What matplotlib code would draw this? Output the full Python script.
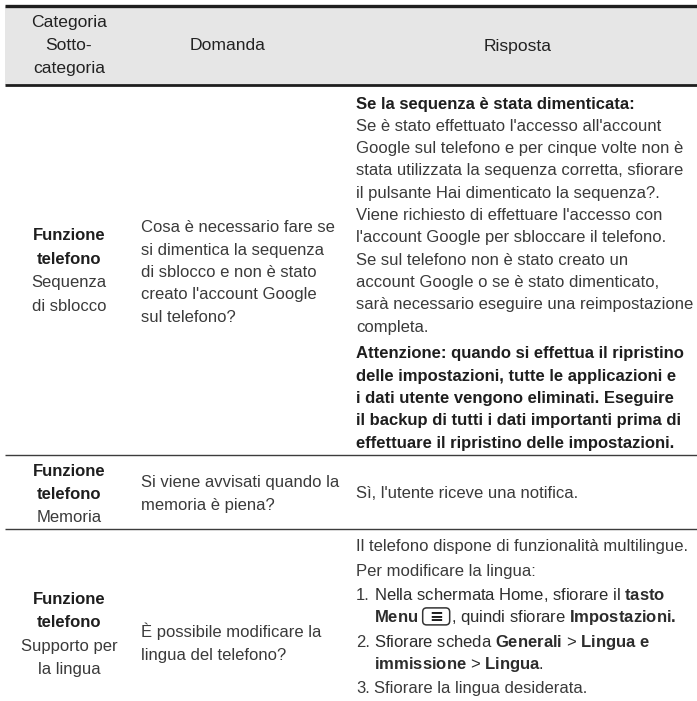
import matplotlib.pyplot as plt
from matplotlib.patches import Rectangle, FancyBboxPatch

plt.rcParams['font.family'] = ['Liberation Sans', 'DejaVu Sans']
plt.rcParams['mathtext.fontset'] = 'custom'
plt.rcParams['mathtext.rm'] = 'Liberation Sans'
plt.rcParams['mathtext.bf'] = 'Liberation Sans:bold'
plt.rcParams['mathtext.it'] = 'Liberation Sans:italic'

# table content
header_cat = ['Categoria', 'Sotto-', 'categoria']
header_cols = ['Domanda', 'Risposta']

cat_main = ['Funzione\ntelefono', 'Funzione\ntelefono', 'Funzione\ntelefono']
cat_sub = ['Sequenza\ndi sblocco', 'Memoria', 'Supporto per\nla lingua']

questions = [
    "Cosa è necessario fare se\nsi dimentica la sequenza\ndi sblocco e non è stato\ncreato l'account Google\nsul telefono?",
    "Si viene avvisati quando la\nmemoria è piena?",
    "È possibile modificare la\nlingua del telefono?",
]

# answers: paragraphs of (number, bold, lines); $\mathbf{..}$ marks bold words,
# [ICON] marks the menu key
answer_1 = [
    ('', True, ['Se la sequenza è stata dimenticata:']),
    ('', False, ["Se è stato effettuato l'accesso all'account",
                 'Google sul telefono e per cinque volte non è',
                 'stata utilizzata la sequenza corretta, sfiorare',
                 'il pulsante Hai dimenticato la sequenza?.',
                 "Viene richiesto di effettuare l'accesso con",
                 "l'account Google per sbloccare il telefono.",
                 'Se sul telefono non è stato creato un',
                 'account Google o se è stato dimenticato,',
                 'sarà necessario eseguire una reimpostazione',
                 'completa.']),
    ('', True, ['Attenzione: quando si effettua il ripristino',
                'delle impostazioni, tutte le applicazioni e',
                'i dati utente vengono eliminati. Eseguire',
                'il backup di tutti i dati importanti prima di',
                'effettuare il ripristino delle impostazioni.']),
]
answer_2 = [
    ('', False, ["Sì, l'utente riceve una notifica."]),
]
answer_3 = [
    ('', False, ['Il telefono dispone di funzionalità multilingue.']),
    ('', False, ['Per modificare la lingua:']),
    ('1.', False, [r'Nella schermata Home, sfiorare il $\mathbf{tasto}$',
                   r'$\mathbf{Menu}$[ICON], quindi sfiorare $\mathbf{Impostazioni.}$']),
    ('2.', False, [r'Sfiorare scheda $\mathbf{Generali}$ > $\mathbf{Lingua\ e}$',
                   r'$\mathbf{immissione}$ > $\mathbf{Lingua}$.']),
    ('3.', False, ['Sfiorare la lingua desiderata.']),
]
answers = [answer_1, answer_2, answer_3]
# extra space after each paragraph
gaps = [[0, 4.5, 0], [0], [2, 2, 2, 2, 2]]

W, H = 697, 701
fig = plt.figure(figsize=(W / 100, H / 100), dpi=100)
ax = fig.add_axes([0, 0, 1, 1])
ax.set_xlim(0, W)
ax.set_ylim(H, 0)
ax.axis('off')

FS = 12.0
HFS = 12.6
REG = '#3a3a3a'
BOLD = '#1e1e1e'
LH = 22.3       # line height (px)
BASE = 5.5      # visual centre -> baseline offset

x_cat = 69
x_q = 141
x_a = 356
col_edges = [5, 133, 348, W]
top_line, head_bottom = 6, 85
row_lines = [455, 529]

renderer = fig.canvas.get_renderer()


def text_width(s):
    t = ax.text(0, 0, 'n' + s + 'n', fontsize=FS)
    w = t.get_window_extent(renderer).width
    t.remove()
    t = ax.text(0, 0, 'nn', fontsize=FS)
    w -= t.get_window_extent(renderer).width
    t.remove()
    return w


def draw_icon(x, yc):
    bw, bh = 27, 17
    box = FancyBboxPatch((x, yc - bh / 2 - 0.5), bw, bh,
                         boxstyle='round,pad=0,rounding_size=4',
                         fc='white', ec='#333333', lw=1.1)
    ax.add_patch(box)
    ax.text(x + bw / 2, yc, '≡', fontsize=FS, ha='center', va='center',
            color='#1e1e1e', family=['DejaVu Sans'], fontweight='bold')
    return x + bw


def draw_line(x, yc, s, bold):
    pieces = s.split('[ICON]')
    cx = x
    for k, p in enumerate(pieces):
        t = ax.text(cx, yc + BASE, p, fontsize=FS, fontweight='bold' if bold else 'normal',
                    color=BOLD if bold else ('#2c2c2c' if '$' in p else REG),
                    ha='left', va='baseline')
        if k < len(pieces) - 1:
            cx = t.get_window_extent(renderer).x1 + 4
            cx = draw_icon(cx, yc) + 1


def draw_answer(paras, y0, gap):
    y = y0
    for (num, bold, lines), g in zip(paras, gap):
        x = x_a
        if num:
            ax.text(x_a, y + BASE, num, fontsize=FS, color=REG, ha='left', va='baseline')
            x = x_a + text_width(num + ' ')
        for s in lines:
            draw_line(x, y, s, bold)
            y += LH
        y += g


# header band
ax.add_patch(Rectangle((col_edges[0], top_line), W - col_edges[0], head_bottom - top_line,
                       fc='#e6e6e6', ec='none'))
ax.plot([col_edges[0], W], [top_line, top_line], color='#1e1e1e', lw=2.4, solid_capstyle='butt')
ax.plot([col_edges[0], W], [head_bottom, head_bottom], color='#1e1e1e', lw=2.0, solid_capstyle='butt')
for ry in row_lines:
    ax.plot([col_edges[0], W], [ry, ry], color='#3c3c3c', lw=1.0, solid_capstyle='butt')

for i, s in enumerate(header_cat):
    ax.text(x_cat, 22 + i * 23 + BASE, s, fontsize=HFS, color='#222222', ha='center', va='baseline')
ax.text(228, 45 + BASE, header_cols[0], fontsize=HFS, color='#222222', ha='center', va='baseline')
ax.text(518, 45 + BASE, header_cols[1], fontsize=HFS, color='#222222', ha='center', va='baseline')

# first visual line centre for each row
cat_y = [235, 470, 598]
q_y = [227, 482, 632]
a_y = [103, 493, 546]
cat_step = 23.5

for r in range(3):
    y = cat_y[r]
    for s in cat_main[r].split('\n'):
        ax.text(x_cat, y + BASE, s, fontsize=FS, fontweight='bold', color=BOLD,
                ha='center', va='baseline')
        y += cat_step
    for s in cat_sub[r].split('\n'):
        ax.text(x_cat, y + BASE, s, fontsize=FS, color=REG, ha='center', va='baseline')
        y += cat_step

    y = q_y[r]
    for s in questions[r].split('\n'):
        ax.text(x_q, y + BASE, s, fontsize=FS, color=REG, ha='left', va='baseline')
        y += LH

    draw_answer(answers[r], a_y[r], gaps[r])

fig.savefig('out.png', dpi=100, facecolor='white')
